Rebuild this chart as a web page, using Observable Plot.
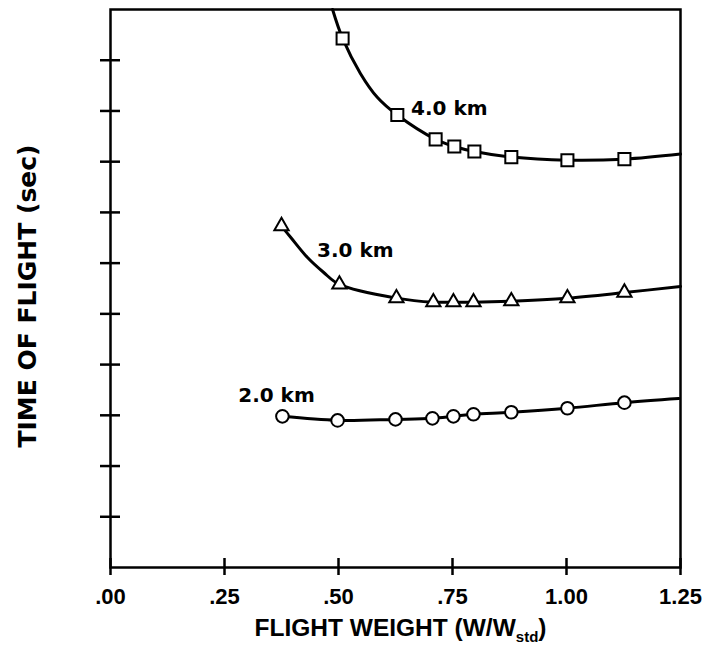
<!DOCTYPE html>
<html><head><meta charset="utf-8">
<script src="https://cdn.jsdelivr.net/npm/d3@7"></script>
<script src="https://cdn.jsdelivr.net/npm/@observablehq/plot@0.6"></script>
<style>body{margin:0;background:#fff}</style>
</head><body><div id="chart"></div>
<script>
// Tick values
const xTicks = [0, 0.25, 0.5, 0.75, 1.0, 1.25];
const yTicks = [1, 2, 3, 4, 5, 6, 7, 8, 9, 10];

// 4.0 km (squares)
const w4 = [0.509, 0.629, 0.713, 0.754, 0.798, 0.879, 1.002, 1.127];
const t4 = [10.43, 8.92, 8.44, 8.30, 8.20, 8.09, 8.03, 8.05];
const w4Curve = [0.487, 0.509, 0.548, 0.585, 0.629, 0.713, 0.754, 0.798, 0.879, 1.002, 1.127, 1.25];
const t4Curve = [11.0, 10.43, 9.74, 9.27, 8.92, 8.44, 8.30, 8.20, 8.09, 8.03, 8.05, 8.15];

// 3.0 km (triangles)
const w3 = [0.375, 0.502, 0.627, 0.708, 0.752, 0.796, 0.879, 1.002, 1.127];
const t3 = [6.73, 5.58, 5.31, 5.23, 5.23, 5.23, 5.25, 5.31, 5.42];
const w3Curve = [0.375, 0.395, 0.432, 0.467, 0.502, 0.627, 0.708, 0.752, 0.796, 0.879, 1.002, 1.127, 1.25];
const t3Curve = [6.73, 6.51, 6.11, 5.82, 5.58, 5.31, 5.23, 5.23, 5.23, 5.25, 5.31, 5.42, 5.54];

// 2.0 km (circles)
const w2 = [0.377, 0.498, 0.625, 0.706, 0.752, 0.796, 0.879, 1.002, 1.127];
const t2 = [2.98, 2.90, 2.92, 2.94, 2.98, 3.02, 3.06, 3.14, 3.25];
const w2Curve = [0.377, 0.498, 0.625, 0.706, 0.752, 0.796, 0.879, 1.002, 1.127, 1.246];
const t2Curve = [2.98, 2.90, 2.92, 2.94, 2.98, 3.02, 3.06, 3.14, 3.25, 3.33];

// Curve labels
const labelText = ["4.0 km", "3.0 km", "2.0 km"];
const labelW = [0.743, 0.537, 0.364];
const labelT = [9.05, 6.25, 3.39];

const xLabel = "FLIGHT WEIGHT (W/Wstd)";
const yLabel = "TIME OF FLIGHT (sec)";

const zip = (a, b) => a.map((v, i) => ({x: v, y: b[i]}));
const pts4 = zip(w4, t4), pts3 = zip(w3, t3), pts2 = zip(w2, t2);
const c4 = zip(w4Curve, t4Curve), c3 = zip(w3Curve, t3Curve), c2 = zip(w2Curve, t2Curve);
const labels = labelText.map((t, i) => ({t, x: labelW[i], y: labelT[i]}));

const font = "'Liberation Sans', Arial, sans-serif";
const wideFont = "'DejaVu Sans', Verdana, sans-serif";
const dotOpts = {x: "x", y: "y", fill: "white", stroke: "black", strokeWidth: 2};

const chart = Plot.plot({
  width: 706, height: 653,
  marginLeft: 110, marginRight: 26, marginTop: 9, marginBottom: 86,
  style: {fontFamily: font, background: "white", color: "black"},
  x: {domain: [0, 1.25]},
  y: {domain: [0, 11]},
  marks: [
    Plot.axisY({ticks: yTicks, tickSize: 20, dx: 10, tickFormat: () => "", label: null, strokeWidth: 2.5}),
    Plot.axisX({ticks: xTicks, tickSize: 17, dy: -9, tickFormat: () => "", label: null, strokeWidth: 2.5}),
    Plot.axisX({ticks: xTicks, tickSize: 0, tickPadding: 21, label: null,
      tickFormat: d => d.toFixed(2).replace(/^0/, ""),
      fontSize: 22, fontWeight: "bold"}),
    Plot.frame({stroke: "black", strokeWidth: 2.5}),
    Plot.line(c4, {x: "x", y: "y", curve: "catmull-rom", stroke: "black", strokeWidth: 3}),
    Plot.line(c3, {x: "x", y: "y", curve: "catmull-rom", stroke: "black", strokeWidth: 3}),
    Plot.line(c2, {x: "x", y: "y", curve: "catmull-rom", stroke: "black", strokeWidth: 3}),
    Plot.dot(pts4, {...dotOpts, symbol: "square", r: 6.8}),
    Plot.dot(pts3, {...dotOpts, symbol: "triangle", r: 5.3}),
    Plot.dot(pts2, {...dotOpts, symbol: "circle", r: 6.3}),
    Plot.text(labels, {x: "x", y: "y", text: "t", fontSize: 20, fontWeight: "bold", fill: "black", fontFamily: wideFont}),
    Plot.text([xLabel], {frameAnchor: "bottom", dx: 5, dy: 61, text: d => d, fontSize: 24.5, fontWeight: "bold", fill: "black", lineAnchor: "middle"}),
    Plot.text([yLabel], {frameAnchor: "left", textAnchor: "middle", rotate: -90, text: d => d, fontSize: 25, fontWeight: "bold", fill: "black", fontFamily: wideFont, letterSpacing: "0.8px", lineAnchor: "middle"})
  ]
});
document.getElementById("chart").appendChild(chart);

const svg = d3.select(chart);
// subscript "std" in x label
svg.selectAll("text").filter(function() { return this.textContent === xLabel; }).each(function() {
  const t = d3.select(this);
  t.text(null);
  t.append("tspan").text("FLIGHT WEIGHT (W/W");
  t.append("tspan").attr("font-size", 15).attr("dy", 6).text("std");
  t.append("tspan").attr("dy", -6).text(")");
});
// place the rotated y label in the left margin
svg.selectAll("text").filter(function() { return this.textContent === yLabel; }).each(function() {
  d3.select(this.parentNode).attr("transform", "translate(36,296) rotate(-90)");
  d3.select(this).attr("transform", null).attr("x", 0).attr("y", 0);
});
</script></body></html>
